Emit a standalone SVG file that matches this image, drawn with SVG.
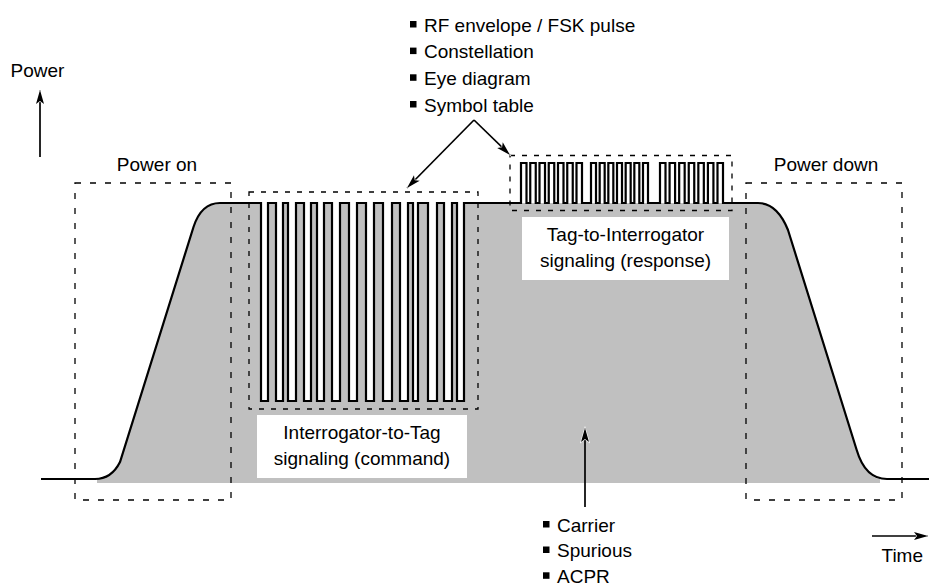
<svg xmlns="http://www.w3.org/2000/svg" width="929" height="587" viewBox="0 0 929 587">
<style>
  text { font-family: "Liberation Sans", Arial, sans-serif; font-size: 19px; fill: #000; }
  .mid { text-anchor: middle; }
  .wave { fill: none; stroke: #000; stroke-width: 2.2; stroke-linejoin: miter; }
  .area { fill: #c0c0c0; stroke: none; }
  .low { fill: #fff; stroke: none; }
  .box { fill: none; stroke: #000; stroke-width: 1.3; stroke-dasharray: 6 9; }
  .sbox { fill: none; stroke: #000; stroke-width: 1.3; stroke-dasharray: 5 7; }
  .tbox { fill: #fff; stroke: none; }
  .conn { stroke: #000; stroke-width: 1.7; fill: none; marker-end: url(#arrow); }
  .bullet { fill: #000; }
</style>
<defs>
  <marker id="arrow" markerUnits="userSpaceOnUse" viewBox="-2 -2 18 12" refX="14" refY="4" markerWidth="18" markerHeight="12" orient="auto" overflow="visible">
    <path d="M0,0 L14,4 L0,8 L3,4 Z" fill="#000" stroke="#fff" stroke-width="1.2" paint-order="stroke"/>
  </marker>
</defs>

<g id="signal-area">
  <path class="area" d="M97,483 V479 C105,479 114,474 120,462 L193.5,227 C199,210 208,203 220,203 H758 C770,203 780,210 788,230 L856.7,450 C862,468 872,479 880,479 V483 Z"/>
  <g id="command-lows">
    <rect class="low" x="261" y="203" width="7" height="198"/>
    <rect class="low" x="276" y="203" width="7" height="198"/>
    <rect class="low" x="288" y="203" width="8" height="198"/>
    <rect class="low" x="304" y="203" width="7" height="198"/>
    <rect class="low" x="317" y="203" width="7" height="198"/>
    <rect class="low" x="332" y="203" width="8" height="198"/>
    <rect class="low" x="349" y="203" width="8" height="198"/>
    <rect class="low" x="366" y="203" width="8" height="198"/>
    <rect class="low" x="383" y="203" width="9" height="198"/>
    <rect class="low" x="400" y="203" width="8" height="198"/>
    <rect class="low" x="413" y="203" width="5" height="198"/>
    <rect class="low" x="428" y="203" width="9" height="198"/>
    <rect class="low" x="444" y="203" width="8" height="198"/>
    <rect class="low" x="457" y="203" width="7" height="198"/>
  </g>
</g>

<g id="label-command">
  <rect class="tbox" x="257" y="415" width="210" height="63"/>
  <text class="mid" x="362" y="439">Interrogator-to-Tag</text>
  <text class="mid" x="362" y="465">signaling (command)</text>
</g>

<g id="label-response">
  <rect class="tbox" x="522" y="217" width="207" height="63"/>
  <text class="mid" x="625.5" y="241">Tag-to-Interrogator</text>
  <text class="mid" x="625.5" y="267">signaling (response)</text>
</g>

<g id="waveform">
  <path class="wave" d="M41,479 H95 C105,479 114,474 120,462 L193.5,227 C199,210 208,203 220,203 H261 V401 H268 V203 H276 V401 H283 V203 H288 V401 H296 V203 H304 V401 H311 V203 H317 V401 H324 V203 H332 V401 H340 V203 H349 V401 H357 V203 H366 V401 H374 V203 H383 V401 H392 V203 H400 V401 H408 V203 H413 V401 H418 V203 H428 V401 H437 V203 H444 V401 H452 V203 H457 V401 H464 V203 H521 V163 H526.5 V203 H530.25 V163 H535.75 V203 H539.5 V163 H545 V203 H548.75 V163 H554.25 V203 H558 V163 H563.5 V203 H567.25 V163 H572.75 V203 H576.5 V163 H582 V203 H591 V163 H596 V203 H599.67 V163 H604.67 V203 H608.33 V163 H613.33 V203 H617 V163 H622 V203 H625.67 V163 H630.67 V203 H634.33 V163 H639.33 V203 H643 V163 H648 V203 H660 V163 H665.5 V203 H669.58 V163 H675.08 V203 H679.17 V163 H684.67 V203 H688.75 V163 H694.25 V203 H698.33 V163 H703.83 V203 H707.92 V163 H713.42 V203 H717.5 V163 H723 V203 H758 C770,203 780,210 788,230 L856.7,450 C862,468 872,479 887,479 H929"/>
</g>

<g id="power-on">
  <rect class="box" x="75" y="183" width="156" height="317"/>
  <text class="mid" x="157" y="171">Power on</text>
</g>

<g id="power-down">
  <rect class="box" x="746" y="183" width="156" height="317"/>
  <text class="mid" x="826" y="171">Power down</text>
</g>

<g id="command-box">
  <rect class="sbox" x="249" y="192" width="229" height="217"/>
</g>

<g id="response-box">
  <rect class="sbox" x="510" y="155.5" width="222" height="55"/>
</g>

<g id="axis-power">
  <text x="10.5" y="77">Power</text>
</g>

<g id="axis-time">
  <text x="881.5" y="562">Time</text>
</g>

<g id="analysis-list">
  <rect class="bullet" x="410" y="21" width="6.5" height="6.5"/>
  <text x="424" y="31.7">RF envelope / FSK pulse</text>
  <rect class="bullet" x="410" y="47.6" width="6.5" height="6.5"/>
  <text x="424" y="58.3">Constellation</text>
  <rect class="bullet" x="410" y="74.3" width="6.5" height="6.5"/>
  <text x="424" y="85">Eye diagram</text>
  <rect class="bullet" x="410" y="101" width="6.5" height="6.5"/>
  <text x="424" y="111.7">Symbol table</text>
</g>

<g id="carrier-list">
  <rect class="bullet" x="543" y="521" width="6.5" height="6.5"/>
  <text x="557" y="531.7">Carrier</text>
  <rect class="bullet" x="543" y="546.5" width="6.5" height="6.5"/>
  <text x="557" y="557.2">Spurious</text>
  <rect class="bullet" x="543" y="572.3" width="6.5" height="6.5"/>
  <text x="557" y="583">ACPR</text>
</g>

<g id="connectors">
  <line class="conn" x1="40" y1="157" x2="40" y2="90"/>
  <line class="conn" x1="872" y1="536" x2="928" y2="536"/>
  <line class="conn" x1="474" y1="120" x2="407" y2="188"/>
  <line class="conn" x1="474" y1="120" x2="510" y2="155"/>
  <line class="conn" x1="585" y1="507" x2="585" y2="428"/>
</g>
</svg>
